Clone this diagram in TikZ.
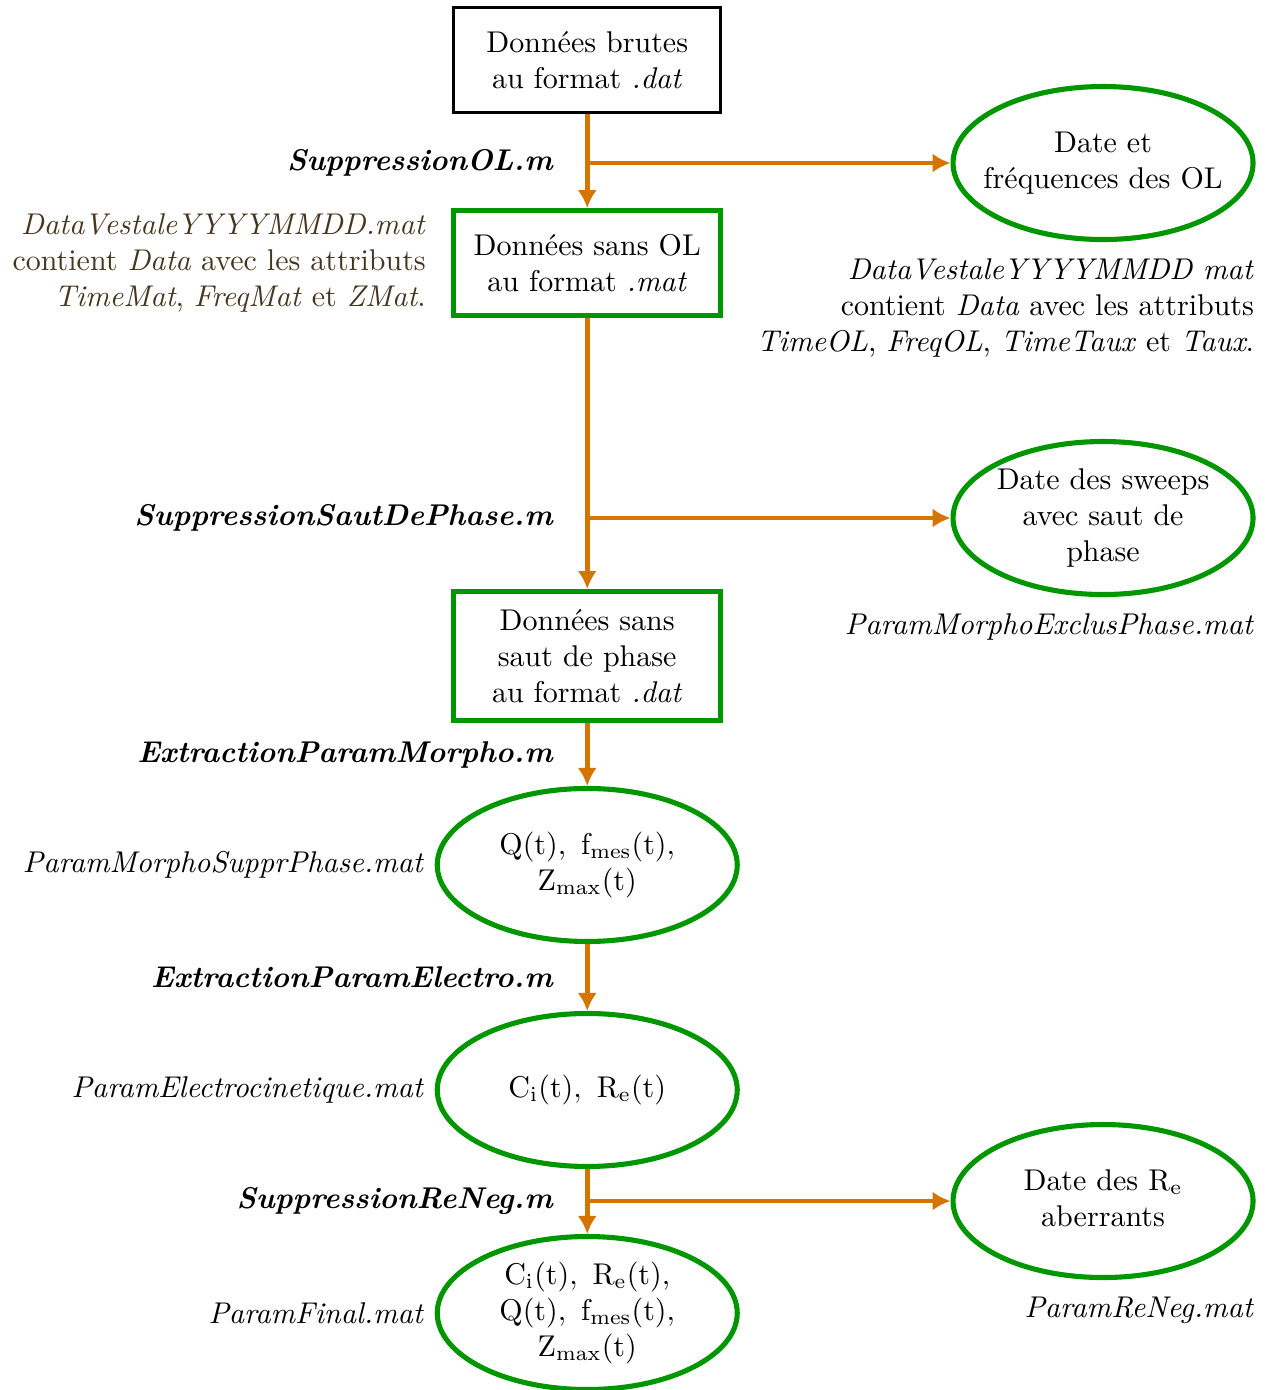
\documentclass[tikz,border=0pt]{standalone}
\usepackage{amsmath,amssymb}
\usepackage{tikz}
\usepackage{xcolor}
\usetikzlibrary{arrows.meta,positioning,calc,shapes.geometric}
\definecolor{cOr}{HTML}{D47500}
\definecolor{cVe}{HTML}{009600}
\definecolor{cBr}{HTML}{45361F}
\newcommand{\ovaltxt}[1]{\makebox[0pt]{\begin{tabular}{@{}c@{}}#1\end{tabular}}}
\tikzset{
  rawbox/.style={draw=black,line width=1pt,inner sep=6pt,minimum width=89pt,
              minimum height=35pt,align=center},
  databox/.style={rawbox,draw=cVe,line width=1.6pt},
  oval/.style={ellipse,draw=cVe,line width=1.7pt,inner sep=0pt,
              minimum width=100pt,minimum height=51pt},
  flow/.style={-{Latex[length=6pt,width=6.4pt]},line width=1.5pt,cOr},
  script/.style={font=\bfseries\itshape},
  fichier/.style={align=right},
}

\begin{document}
\begin{tikzpicture}
  \useasboundingbox (0,0) rectangle (14.844,-16.285);
  % colonne principale
  \node[rawbox](brut) at (6.88,-0.703){Donn\'ees brutes\\au format \textit{.dat}};
  \node[databox](sansOL) at (6.88,-3.081){Donn\'ees sans OL\\au format \textit{.mat}};
  \node[databox](sansSaut) at (6.88,-7.686){Donn\'ees sans\\saut de phase\\au format \textit{.dat}};
  \node[oval](morpho) at (6.88,-10.134){\ovaltxt{$\mathrm{Q(t),\ f_{mes}(t),}$\\$\mathrm{Z_{max}(t)}$}};
  \node[oval](electro) at (6.88,-12.770){\ovaltxt{$\mathrm{C_i(t),\ R_e(t)}$}};
  \node[oval](final) at (6.88,-15.383){\ovaltxt{$\mathrm{C_i(t),\ R_e(t),}$\\$\mathrm{Q(t),\ f_{mes}(t),}$\\$\mathrm{Z_{max}(t)}$}};
  % sorties laterales
  \node[oval](dateOL) at (12.923,-1.910){\ovaltxt{Date et\\fr\'equences des OL}};
  \node[oval](dateSaut) at (12.923,-6.069){\ovaltxt{Date des sweeps\\avec saut de\\phase}};
  \node[oval](dateRe) at (12.923,-14.071){\ovaltxt{Date des $\mathrm{R_e}$\\aberrants}};
  \coordinate (brA) at (dateOL -| brut);
  \coordinate (brB) at (dateSaut -| brut);
  \coordinate (brC) at (dateRe -| brut);
  % fleches
  \draw[flow] (brut) -- (sansOL);
  \draw[flow] (sansOL) -- (sansSaut);
  \draw[flow] (sansSaut) -- (morpho);
  \draw[flow] (morpho) -- (electro);
  \draw[flow] (electro) -- (final);
  \draw[flow] (brA) -- (dateOL);
  \draw[flow] (brB) -- (dateSaut);
  \draw[flow] (brC) -- (dateRe);
  % scripts
  \node[script,left=8pt of brA]{SuppressionOL.m};
  \node[script,left=8pt of brB]{SuppressionSautDePhase.m};
  \node[script,left=8pt of brC]{SuppressionReNeg.m};
  \node[script,left=8pt] at ($(sansSaut.south)!.5!(morpho.north)$){ExtractionParamMorpho.m};
  \node[script,left=8pt] at ($(morpho.south)!.5!(electro.north)$){ExtractionParamElectro.m};
  % fichiers
  \node[fichier,text=cBr,left=5pt of sansOL]{\textit{DataVestaleYYYYMMDD.mat}\\contient \textit{Data} avec les attributs\\\textit{TimeMat}, \textit{FreqMat} et \textit{ZMat}.};
  \node[fichier,left=0pt of morpho]{\textit{ParamMorphoSupprPhase.mat}};
  \node[fichier,left=0pt of electro]{\textit{ParamElectrocinetique.mat}};
  \node[fichier,left=0pt of final]{\textit{ParamFinal.mat}};
  \node[fichier,anchor=north east,shift={(3pt,-2pt)}] at (dateOL.east |- dateOL.south){\textit{DataVestaleYYYYMMDD mat}\\contient \textit{Data} avec les attributs\\\textit{TimeOL}, \textit{FreqOL}, \textit{TimeTaux} et \textit{Taux}.};
  \node[fichier,anchor=north east,shift={(3pt,-2pt)}] at (dateSaut.east |- dateSaut.south){\textit{ParamMorphoExclusPhase.mat}};
  \node[fichier,anchor=north east,shift={(3pt,-2pt)}] at (dateRe.east |- dateRe.south){\textit{ParamReNeg.mat}};
\end{tikzpicture}
\end{document}
